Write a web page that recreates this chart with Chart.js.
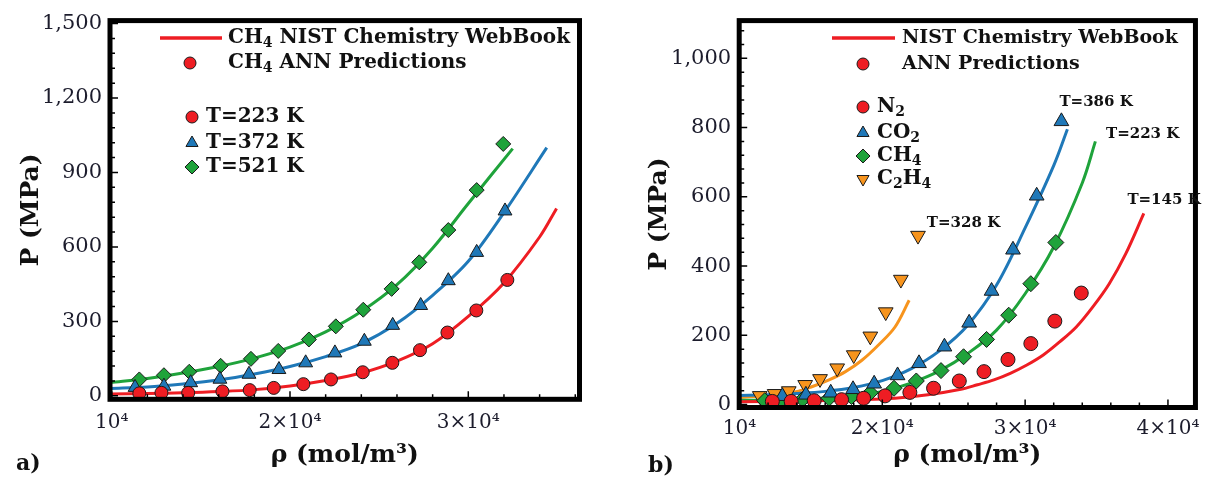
<!DOCTYPE html>
<html>
<head>
<meta charset="utf-8">
<script src="https://cdn.jsdelivr.net/npm/chart.js@4.4.1/dist/chart.umd.min.js"></script>
<style>
    html, body { margin: 0; padding: 0; background: #fff; }
    #wrap { position: relative; width: 1209px; height: 477px; }
    canvas { position: absolute; top: 0; }
    #chartA { left: 0; }
    #chartB { left: 600px; }
</style>
</head>
<body>
<div id="wrap">
    <canvas id="chartA" width="600" height="477"></canvas>
    <canvas id="chartB" width="609" height="477"></canvas>
</div>
<script>
// ---------- Panel a) CH4 at three temperatures ----------
// NIST curves (rho in mol/m3, P in MPa)
const nistA223Rho = [9900, 12000, 14000, 16000, 18000, 20000, 22000, 24000, 26000, 28000, 30000, 32000, 34000, 34950];
const nistA223P   = [7, 9, 12, 17, 25, 40, 62, 92, 140, 210, 320, 455, 640, 755];
const nistA372Rho = [9900, 12000, 14000, 16000, 18000, 20000, 22000, 24000, 26000, 28000, 30000, 32000, 34400];
const nistA372P   = [30, 36, 48, 64, 88, 118, 158, 210, 292, 405, 542, 738, 1000];
const nistA521Rho = [9900, 12000, 14000, 16000, 18000, 20000, 22000, 24000, 26000, 28000, 30000, 32490];
const nistA521P   = [54, 70, 92, 118, 152, 196, 258, 340, 448, 595, 775, 996];
// ANN predictions
const annA223Rho = [11550, 12790, 14290, 16210, 17740, 19090, 20750, 22300, 24080, 25740, 27290, 28830, 30450, 32190];
const annA223P   = [10, 12, 12, 18, 23, 32, 47, 66, 95, 133, 184, 255, 344, 467];
const annA372Rho = [11310, 12930, 14430, 16070, 17700, 19380, 20880, 22520, 24170, 25760, 27330, 28880, 30470, 32060];
const annA372P   = [34, 39, 53, 67, 87, 106, 133, 173, 220, 284, 364, 464, 578, 745];
const annA521Rho = [11550, 12930, 14350, 16110, 17810, 19340, 21060, 22570, 24110, 25700, 27250, 28880, 30470, 31960];
const annA521P   = [66, 83, 97, 121, 149, 181, 227, 280, 347, 431, 538, 668, 829, 1015];
const xTicksA = [10000, 20000, 30000];
const yTicksA = [0, 300, 600, 900, 1200, 1500];

// ---------- Panel b) four gases ----------
const nistBN2Rho   = [9980, 14000, 18570, 20890, 23190, 25500, 26660, 27810, 28960, 30120, 31270, 32420, 33580, 34740, 35890, 37040, 38310];
const nistBN2P     = [8, 10, 14, 18, 28, 44, 57, 71, 90, 114, 143, 181, 224, 282, 349, 435, 552];
const nistBCO2Rho  = [9980, 12000, 14000, 16000, 18000, 20000, 22000, 24000, 26000, 28000, 30000, 32000, 32960];
const nistBCO2P    = [26, 28, 32, 38, 49, 69, 103, 155, 230, 345, 510, 690, 795];
const nistBCH4Rho  = [9980, 12000, 14000, 16000, 18000, 20000, 22000, 24000, 26000, 28000, 30000, 32000, 34000, 34920];
const nistBCH4P    = [12, 13, 15, 19, 25, 38, 62, 97, 148, 215, 320, 455, 640, 760];
const nistBC2H4Rho = [9980, 12000, 13960, 15110, 16270, 17420, 18570, 19730, 20890, 21880];
const nistBC2H4P   = [20, 27, 37, 52, 71, 95, 128, 172, 224, 301];
const annBN2Rho   = [12300, 13620, 15230, 17150, 18690, 20190, 21930, 23590, 25390, 27120, 28800, 30400, 32080, 33930];
const annBN2P     = [9, 9, 11, 14, 18, 25, 35, 47, 68, 95, 130, 176, 241, 322];
const annBCO2Rho  = [13000, 14650, 16390, 17950, 19430, 21070, 22570, 24350, 26080, 27650, 29150, 30810, 32540];
const annBCO2P    = [24, 28, 34, 44, 60, 84, 119, 167, 236, 328, 447, 603, 818];
const annBCH4Rho  = [11770, 12920, 14420, 16270, 17840, 19160, 20820, 22380, 24110, 25690, 27300, 28850, 30400, 32150];
const annBCH4P    = [11, 13, 15, 18, 23, 34, 47, 68, 98, 138, 188, 258, 349, 468];
const annBC2H4Rho = [11420, 12460, 13450, 14600, 15640, 16840, 18000, 19160, 20240, 21300, 22500];
const annBC2H4P   = [25, 31, 39, 57, 74, 105, 143, 197, 267, 361, 488];
const xTicksB = [10000, 20000, 30000, 40000];
const yTicksB = [0, 200, 400, 600, 800, 1000];
// temperature labels next to the curve ends (data coordinates)
const tempLabelsB = ['T=386 K', 'T=223 K', 'T=145 K', 'T=328 K'];
const tempLabelRhoB = [32400, 35660, 37160, 23120];
const tempLabelPB = [874, 781, 591, 525];

const RED = '#ee1d23', BLUE = '#1f78b8', GREEN = '#1fa33b', ORANGE = '#f7941d';
const SERIF = '"DejaVu Serif", serif';

function pts(xs, ys) {
    return xs.map((x, i) => ({ x: x, y: ys[i] }));
}

function curve(xs, ys, color) {
    return {
        data: pts(xs, ys), showLine: true, borderColor: color, borderWidth: 3,
        pointRadius: 0, tension: 0.35, order: 2
    };
}

function markers(xs, ys, color, style, radius, rotation) {
    return {
        data: pts(xs, ys), showLine: false, backgroundColor: color, borderColor: '#1a1a1a',
        borderWidth: 1, pointStyle: style, pointRadius: radius, pointRotation: rotation || 0, order: 1
    };
}

function expLabel(v) {
    const m = Math.round(v / 10000);
    return m === 1 ? '10\u2074' : m + '\u00d710\u2074';
}

// text with "_d" marking a subscript digit
function drawRich(ctx, text, x, y, size) {
    const parts = text.split(/_(\d)/);
    let cx = x;
    ctx.textAlign = 'left';
    ctx.textBaseline = 'middle';
    parts.forEach((p, i) => {
        if (!p) return;
        const sub = i % 2 === 1;
        ctx.font = 'bold ' + (sub ? Math.round(size * 0.72) : size) + 'px ' + SERIF;
        ctx.fillText(p, cx, sub ? y + size * 0.28 : y);
        cx += ctx.measureText(p).width;
    });
}

function marker(ctx, style, color, x, y, r, rot) {
    ctx.save();
    ctx.fillStyle = color;
    ctx.strokeStyle = '#1a1a1a';
    ctx.lineWidth = 1;
    Chart.helpers.drawPoint(ctx, { pointStyle: style, radius: r, rotation: rot || 0, borderWidth: 1 }, x, y);
    ctx.restore();
}

// frame + inward tick marks, drawn over the data like the original
const framePlugin = {
    id: 'frame',
    afterDatasetsDraw(chart, args, opts) {
        const ctx = chart.ctx, a = chart.chartArea;
        const xs = chart.scales.x, ys = chart.scales.y;
        ctx.save();
        ctx.strokeStyle = '#000';
        ctx.lineWidth = 1.5;
        ctx.beginPath();
        for (let v = opts.xFrom; v <= xs.max; v += opts.xMinor) {
            const px = xs.getPixelForValue(v);
            const len = (v % opts.xMajor === 0) ? 8 : 5;
            ctx.moveTo(px, a.bottom);
            ctx.lineTo(px, a.bottom - len);
        }
        for (let v = 0; v <= ys.max; v += opts.yMinor) {
            const py = ys.getPixelForValue(v);
            const len = (v % opts.yMajor === 0) ? 8 : 5;
            ctx.moveTo(a.left, py);
            ctx.lineTo(a.left + len, py);
        }
        ctx.stroke();
        ctx.lineWidth = 5;
        ctx.strokeRect(a.left, a.top, a.right - a.left, a.bottom - a.top);
        ctx.restore();
    },
    afterDraw(chart, args, opts) {
        const ctx = chart.ctx;
        ctx.save();
        ctx.fillStyle = '#111';
        opts.draw(ctx, chart);
        ctx.restore();
    }
};

function makePanel(id, cfg) {
    return new Chart(document.getElementById(id), {
        type: 'scatter',
        data: { datasets: cfg.datasets },
        options: {
            responsive: false,
            animation: false,
            layout: { padding: cfg.padding },
            plugins: {
                legend: { display: false },
                tooltip: { enabled: false },
                frame: cfg.frame
            },
            scales: {
                x: {
                    type: 'linear', min: cfg.xMin, max: cfg.xMax,
                    afterFit: s => { s.height = cfg.xAxisH; },
                    afterBuildTicks: s => { s.ticks = cfg.xTicks.map(v => ({ value: v })); },
                    grid: { display: false, drawTicks: false },
                    border: { display: false },
                    ticks: {
                        autoSkip: false, maxRotation: 0, padding: cfg.xTickPad, color: '#1c1c2c',
                        font: { family: SERIF, size: 20 }, callback: v => expLabel(v)
                    },
                    title: {
                        display: true, text: '\u03c1 (mol/m\u00b3)', color: '#111',
                        font: { family: SERIF, size: 25, weight: 'bold' }, padding: { bottom: 7 }
                    }
                },
                y: {
                    type: 'linear', min: cfg.yMin, max: cfg.yMax,
                    afterFit: s => { s.width = cfg.yAxisW; },
                    afterBuildTicks: s => { s.ticks = cfg.yTicks.map(v => ({ value: v })); },
                    grid: { display: false, drawTicks: false },
                    border: { display: false },
                    ticks: {
                        autoSkip: false, padding: 8, color: '#1c1c2c',
                        font: { family: SERIF, size: 21 }, callback: v => v.toLocaleString('en-US')
                    },
                    title: {
                        display: true, text: 'P (MPa)', color: '#111',
                        font: { family: SERIF, size: 25, weight: 'bold' }, padding: { top: cfg.yTitlePad }
                    }
                }
            }
        },
        plugins: [framePlugin]
    });
}

// ---------- panel a ----------
makePanel('chartA', {
    datasets: [
        markers(annA223Rho, annA223P, RED, 'circle', 6.5),
        markers(annA372Rho, annA372P, BLUE, 'triangle', 8),
        markers(annA521Rho, annA521P, GREEN, 'rectRot', 7.5),
        curve(nistA223Rho, nistA223P, RED),
        curve(nistA372Rho, nistA372P, BLUE),
        curve(nistA521Rho, nistA521P, GREEN)
    ],
    padding: { left: 0, top: 18.7, right: 20.5, bottom: 0 },
    xMin: 9905, xMax: 36237, yMin: -14, yMax: 1512,
    xAxisH: 77.7, yAxisW: 110, yTitlePad: 16, xTickPad: 11,
    xTicks: xTicksA, yTicks: yTicksA,
    frame: {
        xFrom: 10000, xMinor: 2000, xMajor: 10000, yMinor: 60, yMajor: 300,
        draw: (ctx) => {
            ctx.strokeStyle = RED;
            ctx.lineWidth = 3.5;
            ctx.beginPath();
            ctx.moveTo(160, 38);
            ctx.lineTo(222, 38);
            ctx.stroke();
            drawRich(ctx, 'CH_4 NIST Chemistry WebBook', 228, 38, 20);
            marker(ctx, 'circle', RED, 190, 63, 6);
            drawRich(ctx, 'CH_4 ANN Predictions', 228, 63, 20);
            marker(ctx, 'circle', RED, 192, 117, 6);
            drawRich(ctx, 'T=223 K', 206, 117, 20);
            marker(ctx, 'triangle', BLUE, 192, 143, 7);
            drawRich(ctx, 'T=372 K', 206, 143, 20);
            marker(ctx, 'rectRot', GREEN, 192, 167, 7);
            drawRich(ctx, 'T=521 K', 206, 167, 20);
            drawRich(ctx, 'a)', 16, 464, 22);
        }
    }
});

// ---------- panel b ----------
makePanel('chartB', {
    datasets: [
        markers(annBN2Rho, annBN2P, RED, 'circle', 7),
        markers(annBCO2Rho, annBCO2P, BLUE, 'triangle', 8.5),
        markers(annBCH4Rho, annBCH4P, GREEN, 'rectRot', 8),
        markers(annBC2H4Rho, annBC2H4P, ORANGE, 'triangle', 8.5, 180),
        curve(nistBN2Rho, nistBN2P, RED),
        curve(nistBCO2Rho, nistBCO2P, BLUE),
        curve(nistBCH4Rho, nistBCH4P, GREEN),
        curve(nistBC2H4Rho, nistBC2H4P, ORANGE)
    ],
    padding: { left: 0, top: 19, right: 8.5, bottom: 0 },
    xMin: 9980, xMax: 41925, yMin: -8.6, yMax: 1109,
    xAxisH: 69.5, yAxisW: 139.2, yTitlePad: 44, xTickPad: 9,
    xTicks: xTicksB, yTicks: yTicksB,
    frame: {
        xFrom: 10000, xMinor: 2000, xMajor: 10000, yMinor: 40, yMajor: 200,
        draw: (ctx, chart) => {
            ctx.strokeStyle = RED;
            ctx.lineWidth = 3.5;
            ctx.beginPath();
            ctx.moveTo(232, 38);
            ctx.lineTo(295, 38);
            ctx.stroke();
            drawRich(ctx, 'NIST Chemistry WebBook', 302, 38, 19);
            marker(ctx, 'circle', RED, 263, 64, 6);
            drawRich(ctx, 'ANN Predictions', 302, 64, 19);
            marker(ctx, 'circle', RED, 263, 107, 6);
            drawRich(ctx, 'N_2', 277, 107, 20);
            marker(ctx, 'triangle', BLUE, 263, 133, 7);
            drawRich(ctx, 'CO_2', 277, 133, 20);
            marker(ctx, 'rectRot', GREEN, 263, 156, 7);
            drawRich(ctx, 'CH_4', 277, 156, 20);
            marker(ctx, 'triangle', ORANGE, 263, 179, 7, 180);
            drawRich(ctx, 'C_2H_4', 277, 179, 20);
            const xs = chart.scales.x, ys = chart.scales.y;
            tempLabelsB.forEach((t, i) => {
                drawRich(ctx, t, xs.getPixelForValue(tempLabelRhoB[i]), ys.getPixelForValue(tempLabelPB[i]), 15);
            });
            drawRich(ctx, 'b)', 48, 466, 22);
        }
    }
});
</script>
</body>
</html>
